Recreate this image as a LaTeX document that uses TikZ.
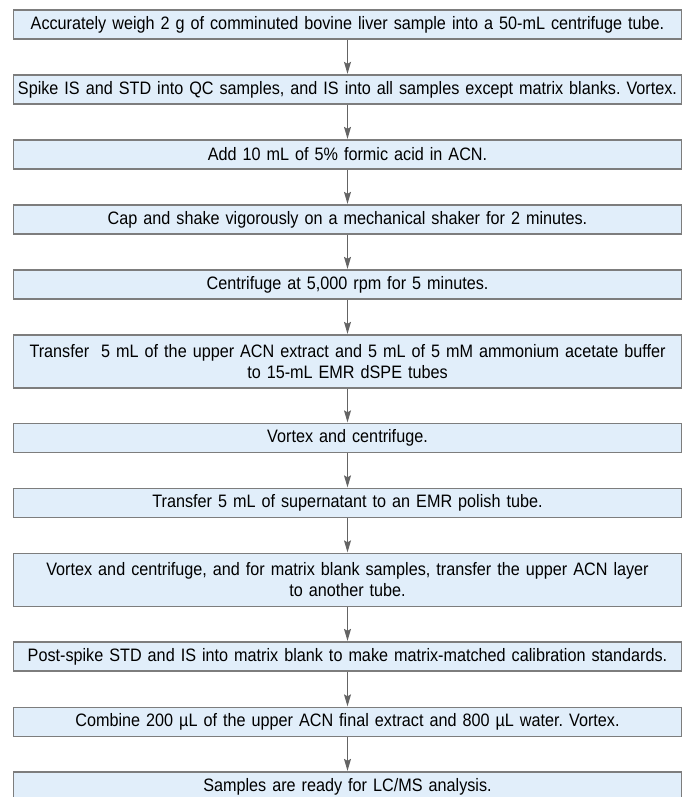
\documentclass[tikz,border=0pt]{standalone}
\usepackage{fontspec}
\setmainfont{Liberation Sans}[FakeStretch=0.9]
\usepackage{tikz}
\usepackage{xcolor}
\usetikzlibrary{arrows.meta}

\definecolor{stepfill}{RGB}{225,238,250}
\definecolor{stepline}{RGB}{125,125,125}
\definecolor{flowline}{RGB}{100,100,100}

\frenchspacing
\begin{document}
\begin{tikzpicture}[x=1pt, y=1pt, >={Stealth[length=12pt,width=7pt,inset=2pt]},
    stepbox/.style={draw=stepline, line width=1.1pt, fill=stepfill, text width=668pt,
        minimum height=29pt, inner sep=0pt, align=center, font=\fontsize{18}{21}\selectfont},
    flow/.style={->, draw=flowline, line width=1pt, shorten >=0.6pt}]
    \useasboundingbox (0,0) rectangle (687,-797);

    \node[stepbox] (s1)  at (347.5,-24.5) {Accurately weigh 2 g of comminuted bovine liver sample into a 50-mL centrifuge tube.};
    \node[stepbox] (s2)  at (347.5,-89.5) {Spike IS and STD into QC samples, and IS into all samples except matrix blanks. Vortex.};
    \node[stepbox] (s3)  at (347.5,-154.5) {Add 10 mL of 5\% formic acid in ACN.};
    \node[stepbox] (s4)  at (347.5,-219.5) {Cap and shake vigorously on a mechanical shaker for 2 minutes.};
    \node[stepbox] (s5)  at (347.5,-284.5) {Centrifuge at 5,000 rpm for 5 minutes.};
    \node[stepbox, minimum height=53pt] (s6) at (347.5,-361.5)
        {Transfer\ \ 5 mL of the upper ACN extract and 5 mL of 5 mM ammonium acetate buffer\\to 15-mL EMR dSPE tubes};
    \node[stepbox] (s7)  at (347.5,-438) {Vortex and centrifuge.};
    \node[stepbox] (s8)  at (347.5,-503) {Transfer 5 mL of supernatant to an EMR polish tube.};
    \node[stepbox, minimum height=53pt] (s9) at (347.5,-580)
        {Vortex and centrifuge, and for matrix blank samples, transfer the upper ACN layer\\to another tube.};
    \node[stepbox] (s10) at (347.5,-656.5) {Post-spike STD and IS into matrix blank to make matrix-matched calibration standards.};
    \node[stepbox] (s11) at (347.5,-722) {Combine 200 µL of the upper ACN final extract and 800 µL water. Vortex.};
    \node[stepbox] (s12) at (347.5,-786.5) {Samples are ready for LC/MS analysis.};

    \foreach \a/\b in {s1/s2,s2/s3,s3/s4,s4/s5,s5/s6,s6/s7,s7/s8,s8/s9,s9/s10,s10/s11,s11/s12}
        \draw[flow] (\a) -- (\b);
\end{tikzpicture}
\end{document}
